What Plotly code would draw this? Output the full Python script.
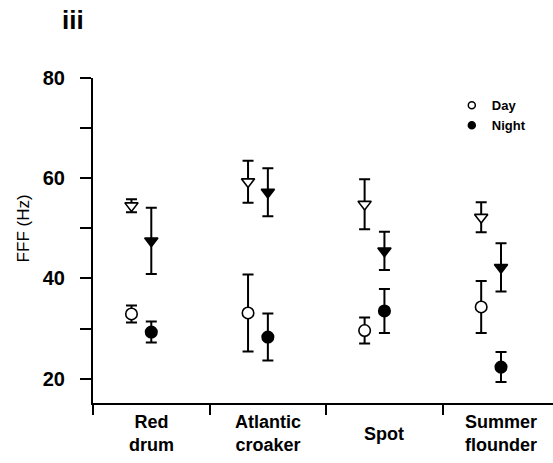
import plotly.graph_objects as go

# ---- data ----
categories = ["Red<br>drum", "Atlantic<br>croaker", "Spot", "Summer<br>flounder"]

day_tri = [54.5, 59.3, 54.8, 52.2]
day_tri_err = [1.3, 4.2, 5.0, 3.0]
night_tri = [47.5, 57.2, 45.5, 42.2]
night_tri_err = [6.6, 4.8, 3.8, 4.8]

day_circ = [32.9, 33.1, 29.6, 34.3]
day_circ_err = [1.7, 7.7, 2.6, 5.2]
night_circ = [29.3, 28.3, 33.5, 22.3]
night_circ_err = [2.1, 4.7, 4.4, 3.0]

y_tick_vals = [20, 40, 60, 80]
panel_label = "iii"
y_title = "FFF (Hz)"

# ---- layout constants ----
DAY_DODGE = -0.17
FONT = "Liberation Sans, Arial, sans-serif"
idx = list(range(len(categories)))
x_day = [i + DAY_DODGE for i in idx]
x_night = idx

fig = go.Figure()


def add_series(x, y, err, symbol, filled, name):
    fig.add_trace(go.Scatter(
        x=x, y=y, mode="markers", name=name, showlegend=False,
        marker=dict(symbol=symbol, size=11.5,
                    color="black" if filled else "white",
                    line=dict(color="black", width=1.6)),
        error_y=dict(type="data", array=err, visible=True,
                     color="black", thickness=2, width=5.5),
    ))


add_series(x_day, day_tri, day_tri_err, "triangle-down", False, "Day (triangle)")
add_series(x_night, night_tri, night_tri_err, "triangle-down", True, "Night (triangle)")
add_series(x_day, day_circ, day_circ_err, "circle", False, "Day (circle)")
add_series(x_night, night_circ, night_circ_err, "circle", True, "Night (circle)")

# legend-only entries
fig.add_trace(go.Scatter(x=[None], y=[None], mode="markers", name="Day",
                         marker=dict(symbol="circle", size=7, color="white",
                                     line=dict(color="black", width=1.5))))
fig.add_trace(go.Scatter(x=[None], y=[None], mode="markers", name="Night",
                         marker=dict(symbol="circle", size=7, color="black",
                                     line=dict(color="black", width=1.5))))

annotations = [
    dict(text=f"<b>{c}</b>", x=i, xref="x", y=-0.094, yref="paper",
         xanchor="center", yanchor="middle", showarrow=False,
         font=dict(family=FONT, size=18, color="#000000"))
    for i, c in zip(idx, categories)
]
annotations.append(dict(text=f"<b>{panel_label}</b>", x=-0.044, xref="paper",
                        y=1.18, yref="paper", xanchor="center", yanchor="middle",
                        showarrow=False,
                        font=dict(family=FONT, size=26, color="#000000")))
annotations.append(dict(text=y_title, x=-0.152, xref="paper", y=50, yref="y",
                        xanchor="center", yanchor="middle", textangle=-90,
                        showarrow=False,
                        font=dict(family=FONT, size=17, color="#000000")))

fig.update_layout(
    width=553, height=463,
    margin=dict(l=93, r=0, t=78, b=60),
    plot_bgcolor="white", paper_bgcolor="white",
    showlegend=True,
    legend=dict(x=0.78, y=0.962, xanchor="left", yanchor="top",
                font=dict(family=FONT, size=13, color="#000000", weight="bold"),
                bgcolor="rgba(0,0,0,0)", itemwidth=30, tracegroupgap=0),
    annotations=annotations,
    xaxis=dict(range=[-0.5, 3.446], showgrid=False, zeroline=False,
               showline=True, linecolor="black", linewidth=2,
               showticklabels=False, ticks="",
               tickmode="array", tickvals=idx,
               minor=dict(tickmode="linear", tick0=-0.5, dtick=1,
                          ticks="outside", ticklen=10, tickwidth=2,
                          tickcolor="black", showgrid=False)),
    yaxis=dict(range=[15.13, 80], showgrid=False, zeroline=False,
               showline=True, linecolor="black", linewidth=2,
               tickmode="array", tickvals=y_tick_vals,
               ticks="outside", ticklen=11, tickwidth=2, tickcolor="black",
               ticklabelstandoff=11,
               tickfont=dict(family=FONT, size=20, color="#000000", weight="bold"),
               minor=dict(tickmode="linear", tick0=0, dtick=10,
                          ticks="outside", ticklen=11, tickwidth=2,
                          tickcolor="black", showgrid=False)),
)

fig.write_html("out.html", config={"displayModeBar": False},
               post_script="document.body.style.margin='0';")
